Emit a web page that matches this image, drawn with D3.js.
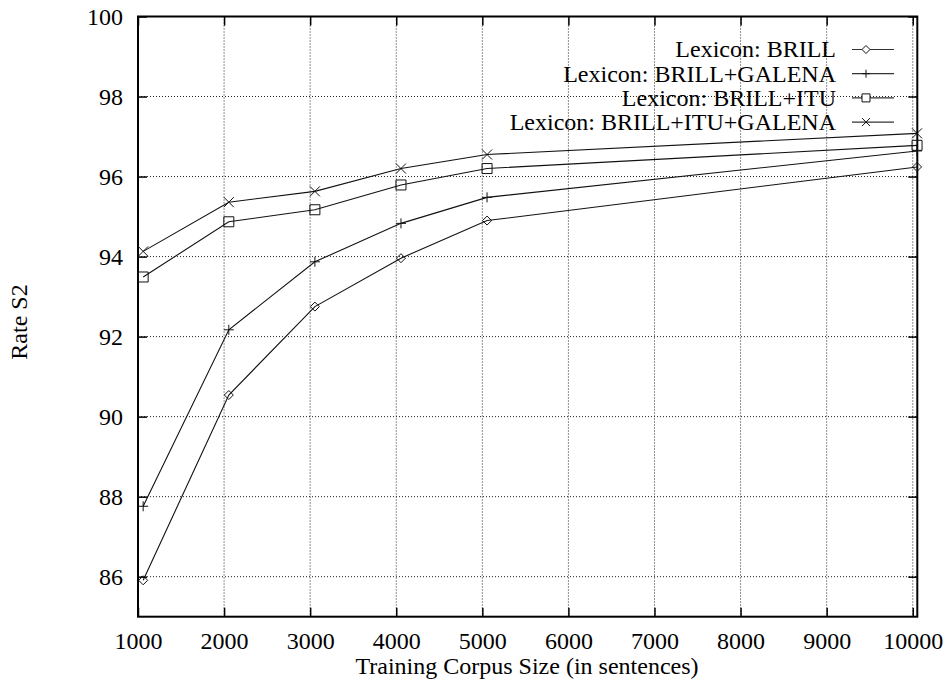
<!DOCTYPE html>
<html>
<head>
<meta charset="utf-8">
<script src="https://cdn.jsdelivr.net/npm/d3@7"></script>
<style>
  html, body { margin: 0; padding: 0; background: #fff; }
  svg { display: block; }
  svg text { font-family: "Liberation Serif", "Times New Roman", serif; }
</style>
</head>
<body>
<svg id="chart" width="947" height="682"></svg>
<script>
// Training corpus sizes (sentences) and tagging rate per lexicon
const corpusSizes = [1060, 2055, 3055, 4055, 5055, 10050];
const rateBrill = [85.91, 90.54, 92.75, 93.96, 94.90, 96.24];
const rateBrillGalena = [87.76, 92.17, 93.87, 94.83, 95.48, 96.64];
const rateBrillItu = [93.49, 94.87, 95.17, 95.79, 96.20, 96.78];
const rateBrillItuGalena = [94.13, 95.36, 95.63, 96.20, 96.55, 97.08];

const seriesNames = [
  "Lexicon: BRILL",
  "Lexicon: BRILL+GALENA",
  "Lexicon: BRILL+ITU",
  "Lexicon: BRILL+ITU+GALENA"
];
const seriesMarkers = ["diamond", "plus", "square", "cross"];
const seriesValues = [rateBrill, rateBrillGalena, rateBrillItu, rateBrillItuGalena];

const xTicks = [1000, 2000, 3000, 4000, 5000, 6000, 7000, 8000, 9000, 10000];
const yTicks = [86, 88, 90, 92, 94, 96, 98, 100];

const svg = d3.select("#chart");
const plotLeft = 138, plotRight = 917.3, plotTop = 16.5, plotBottom = 616.7;

const x = d3.scaleLinear().domain([1000, 10053]).range([plotLeft, plotRight]);
const y = d3.scaleLinear().domain([85, 100]).range([plotBottom, plotTop]);

const ink = "#000";
const fontSize = 24;
const serif = "Liberation Serif";

// Dotted grid
const grid = svg.append("g").attr("stroke", "#222").attr("stroke-width", 1)
  .attr("stroke-dasharray", "1,2");
grid.selectAll("line.gx").data(xTicks).join("line")
  .attr("x1", d => x(d)).attr("x2", d => x(d))
  .attr("y1", plotTop).attr("y2", plotBottom);
grid.selectAll("line.gy").data(yTicks).join("line")
  .attr("x1", plotLeft).attr("x2", plotRight)
  .attr("y1", d => y(d)).attr("y2", d => y(d));

// Axes: inward ticks, mirrored on top and right
const tickLen = 9;
const axisBottom = d3.axisBottom(x).tickValues(xTicks).tickSize(-tickLen).tickPadding(15).tickFormat(d3.format("d"));
const axisLeft = d3.axisLeft(y).tickValues(yTicks).tickSize(-tickLen).tickPadding(15).tickFormat(d3.format("d"));
const axisTop = d3.axisTop(x).tickValues(xTicks).tickSize(-tickLen).tickFormat("");
const axisRight = d3.axisRight(y).tickValues(yTicks).tickSize(-tickLen).tickFormat("");

function styleAxis(g) {
  g.attr("font-family", serif).attr("font-size", fontSize);
  g.select(".domain").remove();
  g.selectAll(".tick line").attr("stroke", ink).attr("stroke-width", 1.5);
  g.selectAll(".tick text").attr("fill", ink);
}

svg.append("g").attr("transform", `translate(0,${plotBottom})`).call(axisBottom).call(styleAxis);
svg.append("g").attr("transform", `translate(${plotLeft},0)`).call(axisLeft).call(styleAxis);
svg.append("g").attr("transform", `translate(0,${plotTop})`).call(axisTop).call(styleAxis);
svg.append("g").attr("transform", `translate(${plotRight},0)`).call(axisRight).call(styleAxis);

// Border
svg.append("rect")
  .attr("x", plotLeft).attr("y", plotTop)
  .attr("width", plotRight - plotLeft).attr("height", plotBottom - plotTop)
  .attr("fill", "none").attr("stroke", ink).attr("stroke-width", 2);

// Marker shapes
function markerPath(type, s) {
  switch (type) {
    case "diamond": return `M0,${-s}L${s},0L0,${s}L${-s},0Z`;
    case "plus": return `M${-s},0H${s}M0,${-s}V${s}`;
    case "square": return `M${-s},${-s}H${s}V${s}H${-s}Z`;
    case "cross": return `M${-s},${-s}L${s},${s}M${-s},${s}L${s},${-s}`;
  }
}
const markerSize = { diamond: 4.5, plus: 5, square: 5, cross: 5 };

// Series lines and markers
const line = d3.line().x(d => x(d[0])).y(d => y(d[1]));
seriesValues.forEach((vals, i) => {
  const pts = corpusSizes.map((c, j) => [c, vals[j]]);
  const g = svg.append("g");
  g.append("path").attr("d", line(pts))
    .attr("fill", "none").attr("stroke", "#111").attr("stroke-width", 1.1);
  g.selectAll("path.m").data(pts).join("path")
    .attr("transform", d => `translate(${x(d[0])},${y(d[1])})`)
    .attr("d", markerPath(seriesMarkers[i], markerSize[seriesMarkers[i]]))
    .attr("fill", "none").attr("stroke", "#111").attr("stroke-width", 1);
});

// Legend
const legendTextX = 836, legendY0 = 49.5, legendStep = 24.2;
const legend = svg.append("g").attr("font-family", serif).attr("font-size", fontSize);
seriesNames.forEach((name, i) => {
  const cy = legendY0 + i * legendStep;
  legend.append("text").attr("x", legendTextX).attr("y", cy + 7.8)
    .attr("text-anchor", "end").attr("fill", ink)
    .text(name);
  legend.append("line").attr("x1", 852).attr("x2", 894).attr("y1", cy).attr("y2", cy)
    .attr("stroke", "#333").attr("stroke-width", 1.2);
  legend.append("path").attr("transform", `translate(866,${cy})`)
    .attr("d", markerPath(seriesMarkers[i], 4))
    .attr("fill", seriesMarkers[i] === "square" || seriesMarkers[i] === "diamond" ? "#fff" : "none")
    .attr("stroke", "#111").attr("stroke-width", 1);
});

// Axis titles
svg.append("text").attr("x", 527).attr("y", 674)
  .attr("text-anchor", "middle").attr("font-family", serif).attr("font-size", fontSize).attr("fill", ink)
  .text("Training Corpus Size (in sentences)");
svg.append("text")
  .attr("transform", `translate(27,322) rotate(-90)`)
  .attr("text-anchor", "middle").attr("font-family", serif).attr("font-size", fontSize).attr("fill", ink)
  .text("Rate S2");
</script>
</body>
</html>
